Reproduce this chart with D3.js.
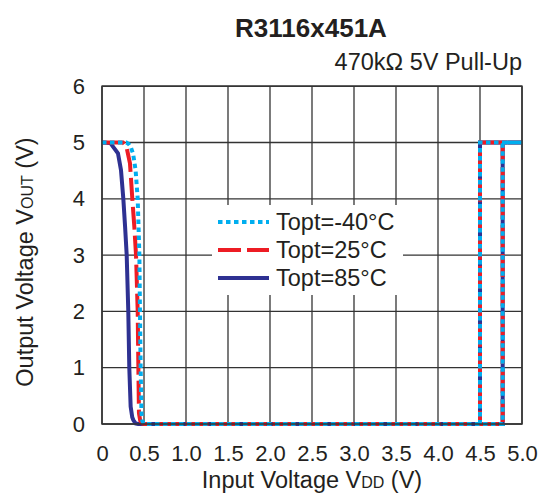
<!DOCTYPE html>
<html><head><meta charset="utf-8">
<script src="https://cdn.jsdelivr.net/npm/d3@7"></script>
<style>
html,body{margin:0;padding:0;background:#fff;}
svg text{font-family:"Liberation Sans",Arial,Helvetica,sans-serif;fill:#231f20;}
</style></head>
<body><svg id="c" width="540" height="495"></svg>
<script>
// ---- data ----
const title = "R3116x451A";
const subtitle = "470kΩ 5V Pull-Up";
const xTicks = [0, 0.5, 1.0, 1.5, 2.0, 2.5, 3.0, 3.5, 4.0, 4.5, 5.0];
const xTickLabels = ["0", "0.5", "1.0", "1.5", "2.0", "2.5", "3.0", "3.5", "4.0", "4.5", "5.0"];
const yTicks = [0, 1, 2, 3, 4, 5, 6];
const seriesNames = ["Topt=-40°C", "Topt=25°C", "Topt=85°C"];
const seriesColors = ["#00aeef", "#ed1c24", "#2e3192"];
// VDD (V), VOUT (V) for each temperature
const vdd_m40 = [0, 0.29, 0.32, 0.34, 0.37, 0.40, 0.425, 0.445, 0.452, 0.46, 0.47, 0.48, 0.50, 4.77, 4.77, 5.0, 4.5, 4.5];
const vout_m40 = [5, 5, 4.97, 4.93, 4.8, 4.51, 4, 3, 2, 1, 0.19, 0.05, 0, 0, 5, 5, 5, 0];
const vdd_25 = [0, 0.25, 0.29, 0.333, 0.361, 0.385, 0.405, 0.425, 0.433, 0.44, 0.455, 0.48, 0.51, 4.77, 4.77, 5.0, 4.5, 4.5];
const vout_25 = [5, 5, 4.93, 4.63, 4, 3.5, 3, 2, 1, 0.19, 0.06, 0.01, 0, 0, 5, 5, 5, 0];
const vdd_85 = [0, 0.1, 0.19, 0.226, 0.254, 0.275, 0.294, 0.313, 0.325, 0.341, 0.36, 0.373, 0.40, 0.43, 4.77, 4.77, 5.0, 4.5, 4.5];
const vout_85 = [5, 4.99, 4.81, 4.51, 4, 3.5, 3, 2, 1, 0.31, 0.12, 0.07, 0.01, 0, 0, 5, 5, 5, 0];

const series = [
  {name: seriesNames[0], color: seriesColors[0], dash: "4.5,3.5", xs: vdd_m40, ys: vout_m40},
  {name: seriesNames[1], color: seriesColors[1], dash: "23,6", xs: vdd_25, ys: vout_25},
  {name: seriesNames[2], color: seriesColors[2], dash: null, xs: vdd_85, ys: vout_85}
];

// ---- drawing ----
const svg = d3.select("#c");
const L = 102, R = 522, T = 86.2, B = 424;
const x = d3.scaleLinear().domain([0, 5]).range([L, R]);
const y = d3.scaleLinear().domain([0, 6]).range([B, T]);
const gridColor = "#333";

// grid
svg.append("g").selectAll("line").data(xTicks).join("line")
  .attr("x1", d => x(d)).attr("x2", d => x(d)).attr("y1", T).attr("y2", B)
  .attr("stroke", gridColor).attr("stroke-width", 1.3);
svg.append("g").selectAll("line").data(yTicks).join("line")
  .attr("x1", L).attr("x2", R).attr("y1", d => y(d)).attr("y2", d => y(d))
  .attr("stroke", gridColor).attr("stroke-width", 1.3);

// axes labels via d3 axes (tick text only)
const xAxis = svg.append("g").attr("transform", `translate(0,${B})`)
  .call(d3.axisBottom(x).tickValues(xTicks).tickFormat((d, i) => xTickLabels[i]).tickSize(0).tickPadding(21));
const yAxis = svg.append("g").attr("transform", `translate(${L},0)`)
  .call(d3.axisLeft(y).tickValues(yTicks).tickFormat(d3.format("d")).tickSize(0).tickPadding(17));
[xAxis, yAxis].forEach(a => {
  a.select(".domain").remove();
  a.selectAll("text").attr("font-size", 22).style("font-family", '"Liberation Sans",Arial,sans-serif').attr("fill", "#231f20");
});

// legend background
const lg = svg.append("g");
lg.append("rect").attr("x", 212).attr("y", 205).attr("width", 191).attr("height", 90).attr("fill", "#fff");

// curves (navy first, dotted on top)
const line = d3.line().x(d => x(d[0])).y(d => y(d[1])).curve(d3.curveLinear);
series.slice().reverse().forEach(s => {
  const pts = s.xs.map((v, i) => [v, s.ys[i]]);
  svg.append("path").datum(pts).attr("d", line)
    .attr("fill", "none").attr("stroke", s.color).attr("stroke-width", 4)
    .attr("stroke-dasharray", s.dash).attr("stroke-linejoin", "miter");
});

// legend entries
series.forEach((s, i) => {
  const yy = 222 + i * 28;
  lg.append("line").attr("x1", 218).attr("x2", 269).attr("y1", yy).attr("y2", yy)
    .attr("stroke", s.color).attr("stroke-width", 4).attr("stroke-dasharray", s.dash);
  lg.append("text").attr("x", 276).attr("y", yy).attr("dy", "0.35em")
    .attr("font-size", 23.5).text(s.name);
});
lg.raise();

// border
svg.append("rect").attr("x", L).attr("y", T).attr("width", R - L).attr("height", B - T)
  .attr("fill", "none").attr("stroke", gridColor).attr("stroke-width", 1.5);

// titles
svg.append("text").attr("x", 311).attr("y", 37).attr("text-anchor", "middle")
  .attr("font-size", 26).attr("font-weight", "bold").attr("fill", "#000").text(title);
svg.append("text").attr("x", 522).attr("y", 70).attr("text-anchor", "end")
  .attr("font-size", 23.5).text(subtitle);

// x axis title
const xt = svg.append("text").attr("x", 312).attr("y", 488).attr("text-anchor", "middle").attr("font-size", 23.5);
xt.append("tspan").text("Input Voltage V");
xt.append("tspan").attr("font-size", 16).text("DD");
xt.append("tspan").text(" (V)");

// y axis title
const yt = svg.append("text").attr("transform", "translate(33,262) rotate(-90)").attr("text-anchor", "middle").attr("font-size", 23.5);
yt.append("tspan").text("Output Voltage V");
yt.append("tspan").attr("font-size", 16).text("OUT");
yt.append("tspan").text(" (V)");
</script></body></html>
